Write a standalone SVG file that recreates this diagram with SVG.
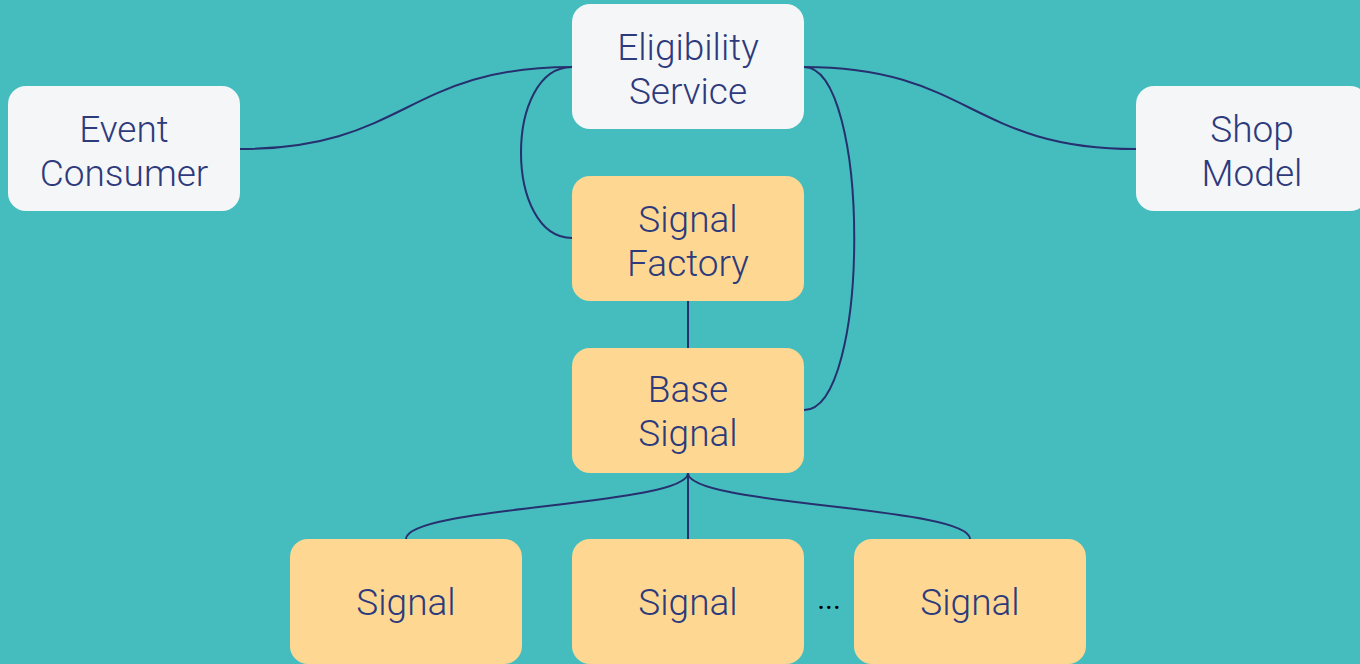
<svg xmlns="http://www.w3.org/2000/svg" width="1360" height="664" viewBox="0 0 1360 664">
<style>
.bg{fill:#45bdbf}
.w{fill:#f5f6f8}
.y{fill:#fed892}
.t{font-family:Roboto,"Liberation Sans",sans-serif;font-weight:300;font-size:37px;fill:#2d3a7c;text-anchor:middle}
.c{fill:none;stroke:#27306e;stroke-width:2}
</style>
<rect class="bg" x="0" y="0" width="1360" height="664"/>
<g id="connectors">
<path class="c" d="M240,149 C406,149 406,67 572,67"/>
<path class="c" d="M804,67 C970,67 970,149 1136,149"/>
<path class="c" d="M572,67 C504,67 504,238 572,238"/>
<path class="c" d="M804,67 C871,67 871,410 804,410"/>
<path class="c" d="M688,301 L688,348"/>
<path class="c" d="M688,473 C688,506 406,506 406,539"/>
<path class="c" d="M688,473 L688,539"/>
<path class="c" d="M688,473 C688,506 970,506 970,539"/>
</g>
<g id="eligibility-service">
<rect class="w" x="572" y="4" width="232" height="125" rx="18"/>
<text class="t" x="688" y="60">Eligibility</text>
<text class="t" x="688" y="104">Service</text>
</g>
<g id="event-consumer">
<rect class="w" x="8" y="86" width="232" height="125" rx="18"/>
<text class="t" x="124" y="142">Event</text>
<text class="t" x="124" y="186">Consumer</text>
</g>
<g id="shop-model">
<rect class="w" x="1136" y="86" width="232" height="125" rx="18"/>
<text class="t" x="1252" y="142">Shop</text>
<text class="t" x="1252" y="186">Model</text>
</g>
<g id="signal-factory">
<rect class="y" x="572" y="176" width="232" height="125" rx="18"/>
<text class="t" x="688" y="232">Signal</text>
<text class="t" x="688" y="276">Factory</text>
</g>
<g id="base-signal">
<rect class="y" x="572" y="348" width="232" height="125" rx="18"/>
<text class="t" x="688" y="402">Base</text>
<text class="t" x="688" y="446">Signal</text>
</g>
<g id="signal-1">
<rect class="y" x="290" y="539" width="232" height="125" rx="18"/>
<text class="t" x="406" y="615">Signal</text>
</g>
<g id="signal-2">
<rect class="y" x="572" y="539" width="232" height="125" rx="18"/>
<text class="t" x="688" y="615">Signal</text>
</g>
<g id="signal-3">
<rect class="y" x="854" y="539" width="232" height="125" rx="18"/>
<text class="t" x="970" y="615">Signal</text>
</g>
<g id="ellipsis">
<text x="829" y="609" style="font-family:Roboto,'Liberation Sans',sans-serif;font-size:30px;fill:#000;text-anchor:middle">...</text>
</g>
</svg>
